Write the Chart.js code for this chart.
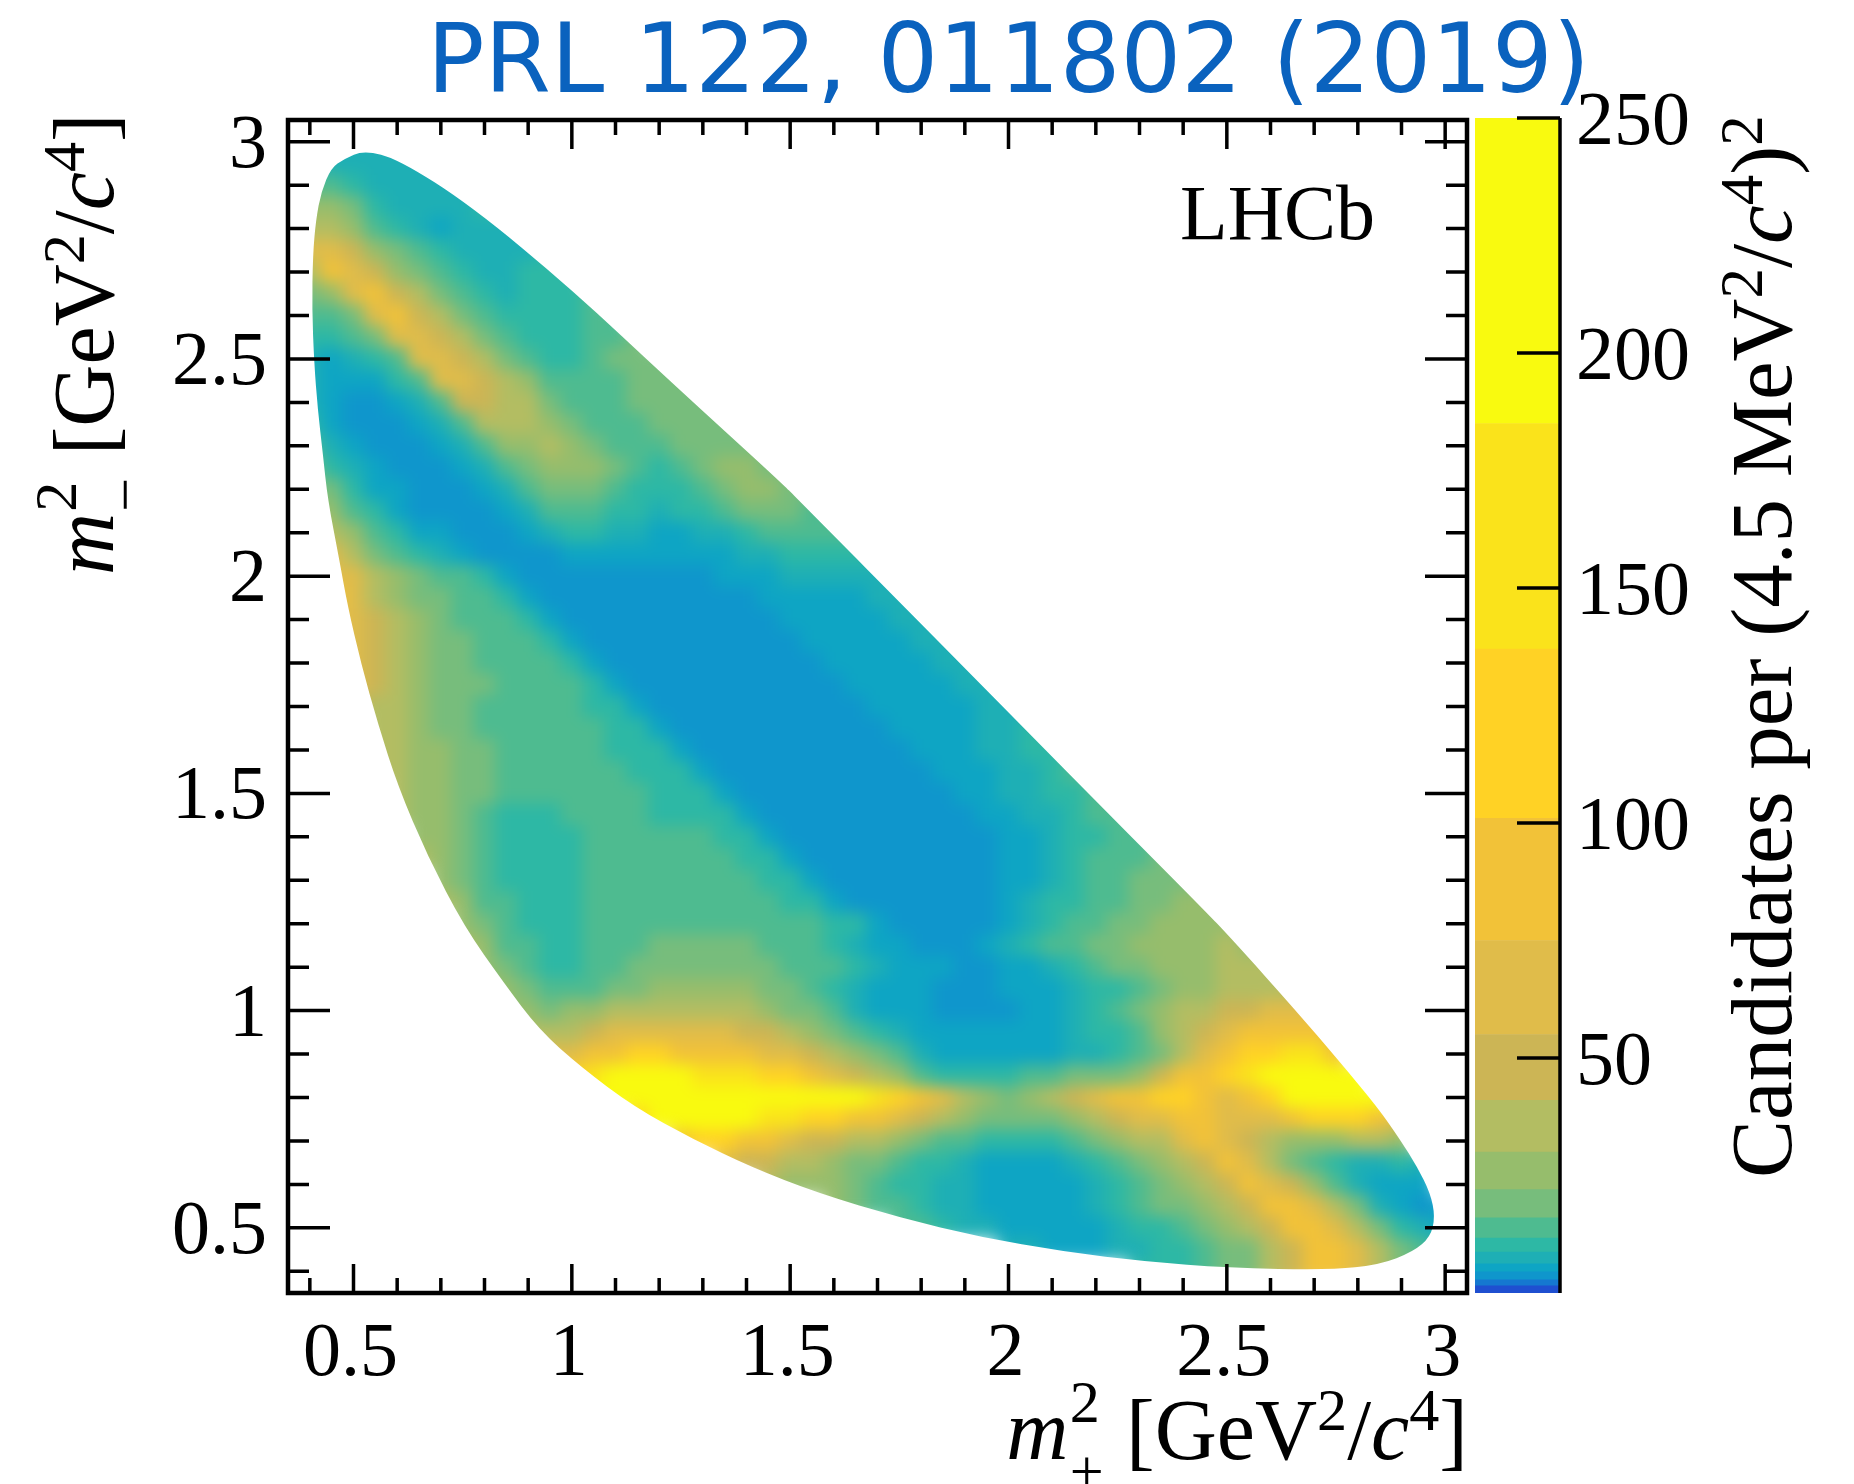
<!DOCTYPE html>
<html>
<head>
<meta charset="utf-8">
<title>PRL 122, 011802 (2019)</title>
<script src="https://cdn.jsdelivr.net/npm/chart.js@4/dist/chart.umd.min.js"></script>
<style>
body { margin: 0; background: #fff; width: 1854px; height: 1484px; overflow: hidden; position: relative; }
canvas { position: absolute; top: 0; }
.txt { position: absolute; white-space: nowrap; font-family: "Liberation Serif", serif; font-size: 86px; line-height: 100px; color: #000; }
.txt sup { font-size: 0.7em; line-height: 0; vertical-align: 0.48em; }
.stack { display: inline-block; position: relative; width: 0.42em; height: 0.1em; }
.stack b { position: absolute; left: 0.02em; font-weight: normal; font-size: 0.7em; line-height: 1; }
#head { left: 427px; top: 4px; font-family: "DejaVu Sans", sans-serif; font-size: 95.5px; line-height: 110px; color: #0a62be; }
#lhcb { left: 1180px; top: 163px; font-size: 78px; }
#xtitle { right: 386px; top: 1380px; }
#ytitle { left: 34px; top: 575px; transform-origin: 0 0; transform: rotate(-90deg); }
#ztitle { left: 1712px; top: 1178px; font-size: 87px; transform-origin: 0 0; transform: rotate(-90deg); }
</style>
</head>
<body>
<canvas id="dalitz" width="1854" height="1484" style="left:0"></canvas>
<canvas id="colorbar" width="384" height="1484" style="left:1470px"></canvas>
<div class="txt" id="head">PRL 122, 011802 (2019)</div>
<div class="txt" id="lhcb">LHCb</div>
<div class="txt" id="xtitle"><i>m</i><span class="stack"><b style="top:-1.3em">2</b><b style="top:-0.16em">+</b></span> [GeV<sup>2</sup>/<i>c</i><sup>4</sup>]</div>
<div class="txt" id="ytitle"><i>m</i><span class="stack"><b style="top:-1.3em">2</b><b style="top:-0.16em">&minus;</b></span> [GeV<sup>2</sup>/<i>c</i><sup>4</sup>]</div>
<div class="txt" id="ztitle">Candidates per (4.5 MeV<sup>2</sup>/<i>c</i><sup>4</sup>)<sup>2</sup></div>
<script>
// axis ticks
const majorTicks = [0.5, 1, 1.5, 2, 2.5, 3];
const allTicks = [0.4, 0.5, 0.6, 0.7, 0.8, 0.9, 1, 1.1, 1.2, 1.3, 1.4, 1.5, 1.6, 1.7, 1.8, 1.9, 2, 2.1, 2.2, 2.3, 2.4, 2.5, 2.6, 2.7, 2.8, 2.9, 3];
const colorbarTicks = [0, 50, 100, 150, 200, 250];

// colour scale
const levelEdges = [0, 1.5, 2.8, 4.5, 6.2, 8.7, 11.7, 16, 22, 30, 41, 55, 75, 101, 137, 185, 250];
const levelColors = ['#1f4fd0', '#1578d0', '#0f96cc', '#0ea5c4', '#1eafb5', '#2db8a5', '#4ebb90', '#77bd7c',
  '#96bd6c', '#b3bd62', '#ccb555', '#e0bc4a', '#f2c238', '#ffd225', '#fae31b', '#f9fa0f'];

// outline of the populated region, going clockwise from the top tip
const edgeX = [0.524, 0.602, 0.769, 1.0, 1.227, 1.478, 1.517, 1.828, 2.135, 2.44, 2.512, 2.66, 2.76, 2.844, 2.897, 2.936, 2.966, 2.977, 2.966, 2.927, 2.85, 2.737, 2.5, 2.318, 2.126, 1.935, 1.753, 1.563, 1.41, 1.28, 1.142, 1.02, 0.925, 0.844, 0.753, 0.67, 0.602, 0.556, 0.517, 0.487, 0.467, 0.441, 0.43, 0.418, 0.41, 0.405, 0.407, 0.414, 0.426, 0.449, 0.478];
const edgeY = [2.98, 2.96, 2.853, 2.66, 2.447, 2.217, 2.177, 1.862, 1.548, 1.24, 1.164, 0.998, 0.88, 0.779, 0.703, 0.64, 0.58, 0.525, 0.479, 0.445, 0.415, 0.403, 0.408, 0.422, 0.445, 0.479, 0.523, 0.58, 0.64, 0.703, 0.779, 0.871, 0.956, 1.064, 1.194, 1.355, 1.516, 1.66, 1.8, 1.93, 2.04, 2.177, 2.28, 2.385, 2.49, 2.615, 2.74, 2.82, 2.885, 2.94, 2.96];

// candidates per bin, estimated by eye: one row per m-^2 value, first bin at rowStart, bins 0.05 wide
const rowY = [3.00, 2.95, 2.90, 2.85, 2.80, 2.75, 2.70, 2.65, 2.60, 2.55, 2.50, 2.45, 2.40, 2.35, 2.30, 2.25, 2.20, 2.15, 2.10, 2.05, 2.00, 1.95, 1.90, 1.85, 1.80, 1.75, 1.70, 1.65, 1.60, 1.55, 1.50, 1.45, 1.40, 1.35, 1.30, 1.25, 1.20, 1.15, 1.10, 1.05, 1.00, 0.95, 0.90, 0.85, 0.80, 0.75, 0.70, 0.65, 0.60, 0.55, 0.50, 0.45, 0.40];
const rowStart = [0.45, 0.40, 0.40, 0.40, 0.40, 0.40, 0.40, 0.40, 0.40, 0.40, 0.40, 0.40, 0.40, 0.40, 0.40, 0.40, 0.40, 0.40, 0.40, 0.45, 0.45, 0.45, 0.45, 0.45, 0.50, 0.50, 0.50, 0.55, 0.55, 0.55, 0.60, 0.60, 0.65, 0.65, 0.70, 0.70, 0.75, 0.75, 0.80, 0.80, 0.85, 0.90, 0.95, 1.00, 1.05, 1.15, 1.25, 1.35, 1.45, 1.60, 1.75, 2.00, 2.30];
const rowCounts = [
  [8, 8, 8, 8, 8, 8],
  [7, 7, 8, 8, 8, 8, 8, 8],
  [14, 12, 9, 8, 7, 7, 7, 7, 8],
  [26, 22, 16, 11, 8, 7, 7, 8, 9, 9],
  [40, 30, 22, 14, 10, 7, 6, 7, 7, 8, 8],
  [60, 70, 45, 28, 18, 12, 9, 7, 7, 8, 8, 9],
  [30, 80, 70, 45, 28, 18, 12, 9, 8, 8, 9, 9, 10],
  [16, 22, 70, 75, 50, 30, 18, 12, 9, 8, 9, 10, 11, 12],
  [12, 14, 16, 70, 75, 50, 30, 20, 13, 10, 9, 9, 11, 12, 14],
  [9, 10, 12, 16, 65, 70, 50, 30, 20, 13, 10, 9, 10, 12, 14, 16],
  [7, 6, 8, 11, 14, 60, 70, 45, 30, 20, 14, 11, 10, 12, 16, 18, 16, 16],
  [7, 5, 5, 6, 9, 13, 55, 65, 45, 30, 22, 15, 12, 12, 14, 18, 20, 18, 18],
  [8, 5, 4, 4, 5, 8, 12, 45, 50, 40, 30, 20, 15, 13, 13, 16, 20, 20, 18, 18],
  [10, 6, 4, 4, 4, 5, 7, 12, 30, 35, 35, 28, 20, 15, 13, 14, 18, 20, 20, 18, 18],
  [13, 8, 5, 4, 4, 4, 5, 8, 12, 22, 28, 30, 24, 18, 14, 13, 15, 18, 20, 20, 18, 18],
  [16, 11, 7, 5, 4, 4, 4, 5, 8, 12, 20, 24, 26, 22, 16, 12, 11, 14, 18, 22, 22, 18, 18],
  [20, 16, 10, 6, 5, 4, 4, 4, 5, 8, 13, 18, 20, 18, 15, 11, 10, 11, 14, 20, 24, 22, 18, 18],
  [28, 24, 14, 9, 6, 4, 4, 4, 4, 5, 8, 12, 14, 13, 11, 9, 8, 9, 10, 13, 16, 18, 18, 15, 15],
  [50, 40, 22, 13, 9, 6, 5, 4, 4, 4, 5, 7, 9, 9, 8, 7, 6, 6, 7, 8, 10, 12, 14, 14, 12, 12],
  [60, 35, 20, 13, 9, 7, 5, 4, 4, 4, 4, 5, 6, 6, 5, 5, 5, 5, 6, 7, 8, 9, 10, 10, 9, 9],
  [70, 60, 32, 24, 18, 15, 13, 9, 5, 4, 4, 4, 4, 4, 4, 4, 4, 4, 5, 6, 6, 7, 7, 7, 7, 7, 7],
  [80, 70, 40, 28, 20, 16, 14, 13, 10, 6, 4, 4, 4, 4, 4, 4, 4, 4, 4, 4, 5, 5, 5, 6, 6, 7, 8, 8],
  [65, 70, 50, 32, 23, 18, 15, 14, 13, 10, 5, 4, 4, 4, 4, 4, 4, 4, 4, 4, 4, 5, 5, 5, 6, 6, 7, 8, 8],
  [50, 60, 50, 34, 24, 19, 16, 14, 13, 12, 9, 5, 4, 4, 4, 4, 4, 4, 4, 4, 4, 4, 5, 5, 5, 6, 6, 7, 8, 8],
  [60, 50, 34, 26, 20, 17, 15, 14, 13, 12, 9, 5, 4, 4, 4, 4, 4, 4, 4, 4, 4, 4, 5, 5, 5, 6, 6, 7, 8, 8],
  [55, 44, 32, 26, 20, 17, 16, 15, 14, 13, 12, 9, 5, 4, 4, 4, 4, 4, 4, 4, 4, 4, 4, 5, 5, 5, 6, 6, 7, 8, 8],
  [45, 40, 32, 26, 20, 17, 15, 15, 14, 13, 12, 11, 9, 5, 4, 4, 4, 4, 4, 4, 4, 4, 4, 4, 5, 5, 5, 6, 6, 7, 8, 8],
  [36, 32, 26, 20, 18, 15, 15, 14, 13, 12, 12, 11, 9, 5, 4, 4, 4, 4, 4, 4, 4, 4, 4, 4, 5, 5, 6, 6, 7, 8, 9, 9],
  [32, 30, 26, 22, 18, 16, 15, 14, 13, 12, 12, 11, 11, 9, 5, 4, 4, 4, 4, 4, 4, 4, 4, 4, 4, 5, 5, 6, 7, 8, 9, 10, 10],
  [30, 30, 26, 22, 18, 16, 15, 14, 13, 13, 12, 12, 11, 11, 9, 5, 4, 4, 4, 4, 4, 4, 4, 4, 4, 4, 5, 5, 6, 7, 8, 10, 12, 12],
  [30, 26, 22, 18, 16, 14, 12, 12, 12, 12, 12, 12, 11, 11, 9, 5, 4, 4, 4, 4, 4, 4, 4, 4, 4, 4, 5, 6, 7, 8, 9, 11, 13, 13],
  [30, 28, 22, 16, 13, 11, 11, 11, 12, 12, 12, 12, 11, 11, 11, 9, 5, 4, 4, 4, 4, 4, 4, 4, 4, 4, 4, 5, 6, 7, 8, 10, 12, 14, 14],
  [28, 22, 16, 13, 11, 10, 10, 11, 12, 13, 13, 13, 12, 12, 11, 9, 5, 4, 4, 4, 4, 4, 4, 4, 4, 4, 4, 5, 6, 8, 9, 11, 13, 15, 15],
  [30, 24, 17, 13, 11, 10, 10, 11, 12, 12, 13, 13, 13, 13, 13, 11, 9, 5, 4, 4, 4, 4, 4, 4, 4, 4, 4, 5, 6, 8, 10, 12, 14, 15, 17, 17],
  [28, 20, 14, 11, 10, 10, 11, 12, 13, 13, 13, 14, 14, 14, 13, 11, 10, 6, 4, 4, 4, 4, 4, 4, 4, 4, 5, 6, 8, 10, 12, 14, 16, 18, 20, 20],
  [30, 22, 15, 12, 10, 10, 11, 12, 13, 14, 14, 14, 14, 14, 13, 12, 11, 10, 6, 4, 4, 4, 4, 4, 4, 4, 5, 7, 9, 11, 13, 15, 17, 19, 22, 24, 24],
  [26, 18, 13, 11, 11, 11, 12, 13, 14, 15, 15, 15, 15, 14, 13, 12, 12, 11, 9, 6, 4, 4, 4, 4, 4, 5, 7, 9, 12, 15, 18, 20, 22, 24, 26, 26, 26],
  [30, 22, 15, 12, 11, 11, 12, 13, 15, 16, 17, 17, 17, 16, 14, 13, 12, 10, 8, 6, 5, 4, 4, 4, 5, 7, 9, 12, 15, 18, 20, 22, 24, 26, 28, 30, 28, 28],
  [26, 18, 13, 11, 11, 13, 15, 17, 19, 20, 20, 20, 19, 17, 15, 13, 12, 10, 8, 6, 5, 5, 4, 4, 5, 6, 8, 10, 13, 16, 20, 22, 25, 28, 30, 32, 30, 30],
  [30, 22, 16, 13, 13, 15, 18, 21, 24, 26, 26, 26, 24, 21, 17, 14, 10, 8, 6, 5, 5, 4, 4, 4, 5, 5, 6, 7, 9, 11, 14, 18, 22, 26, 30, 34, 38, 40, 36, 30],
  [26, 22, 20, 22, 25, 30, 34, 36, 36, 36, 34, 30, 25, 20, 16, 12, 8, 6, 5, 5, 4, 4, 4, 4, 5, 6, 8, 10, 14, 18, 24, 30, 36, 42, 50, 58, 62, 55, 42],
  [30, 30, 35, 45, 55, 60, 60, 60, 58, 55, 50, 45, 36, 28, 20, 14, 10, 8, 6, 5, 5, 5, 5, 5, 6, 7, 9, 11, 14, 22, 35, 50, 65, 75, 85, 90, 90, 70],
  [60, 70, 85, 100, 105, 105, 100, 95, 85, 75, 65, 55, 45, 35, 25, 18, 12, 8, 6, 5, 5, 5, 5, 6, 7, 8, 10, 13, 18, 38, 60, 85, 110, 135, 150, 155, 100],
  [130, 160, 190, 190, 190, 190, 180, 165, 145, 125, 105, 85, 65, 45, 32, 22, 15, 11, 9, 9, 10, 12, 14, 16, 18, 20, 25, 45, 75, 100, 120, 140, 190, 220, 230, 230, 200],
  [200, 220, 230, 230, 230, 230, 220, 210, 200, 190, 190, 190, 185, 140, 110, 85, 55, 30, 22, 20, 24, 35, 50, 65, 80, 95, 105, 115, 85, 70, 85, 130, 190, 230, 240, 240, 200],
  [130, 190, 215, 220, 215, 200, 180, 150, 125, 105, 85, 75, 65, 50, 35, 24, 18, 16, 17, 20, 26, 35, 45, 55, 70, 100, 90, 70, 55, 65, 85, 110, 110, 110, 90, 60],
  [100, 120, 115, 100, 80, 65, 48, 42, 36, 30, 25, 20, 15, 12, 10, 9, 9, 10, 13, 17, 22, 30, 40, 55, 90, 70, 45, 32, 24, 24, 28, 32, 30, 22],
  [55, 50, 42, 35, 30, 26, 20, 16, 13, 11, 9, 8, 6, 6, 6, 6, 8, 10, 15, 20, 26, 35, 50, 85, 70, 40, 20, 12, 9, 8, 8, 9, 8],
  [32, 28, 25, 22, 18, 14, 11, 9, 8, 7, 6, 5, 5, 5, 6, 8, 11, 15, 20, 25, 32, 45, 85, 70, 45, 26, 14, 8, 6, 5, 6],
  [22, 18, 14, 12, 10, 8, 7, 6, 5, 5, 5, 6, 8, 10, 13, 16, 20, 26, 35, 50, 90, 75, 55, 30, 16, 8, 5, 4, 5],
  [14, 12, 10, 8, 7, 6, 6, 5, 5, 6, 7, 9, 11, 14, 18, 24, 30, 45, 95, 90, 60, 35, 20, 11, 7, 6],
  [8, 7, 6, 6, 6, 7, 8, 9, 11, 13, 16, 20, 30, 45, 100, 90, 60, 35, 20, 12, 9],
  [10, 10, 11, 13, 16, 20, 30, 45, 90, 90, 70, 40, 20, 12]
];

function levelColor(v) {
  for (let i = 0; i < levelColors.length; i++) {
    if (v < levelEdges[i + 1]) return levelColors[i];
  }
  return levelColors[levelColors.length - 1];
}

let cells = [];
let cellColors = [];
for (let r = 0; r < rowY.length; r++) {
  for (let c = 0; c < rowCounts[r].length; c++) {
    cells.push({ x: rowStart[r] + c * 0.05, y: rowY[r] });
    cellColors.push(levelColor(rowCounts[r][c]));
  }
}

const serif = 'Liberation Serif';

// the cells are painted as plain squares, then the area is redrawn once, softened and cut to the outline
const softenAndClip = {
  id: 'softenAndClip',
  afterDatasetsDraw(chart) {
    const ctx = chart.ctx;
    const a = chart.chartArea;
    const n = edgeX.length;
    const px = i => chart.scales.x.getPixelForValue(edgeX[i % n]);
    const py = i => chart.scales.y.getPixelForValue(edgeY[i % n]);

    const copy = document.createElement('canvas');
    copy.width = chart.canvas.width;
    copy.height = chart.canvas.height;
    copy.getContext('2d').drawImage(chart.canvas, 0, 0);

    ctx.clearRect(a.left, a.top, a.right - a.left, a.bottom - a.top);
    ctx.save();
    ctx.beginPath();
    ctx.moveTo((px(n - 1) + px(0)) / 2, (py(n - 1) + py(0)) / 2);
    for (let i = 0; i < n; i++) {
      ctx.quadraticCurveTo(px(i), py(i), (px(i) + px(i + 1)) / 2, (py(i) + py(i + 1)) / 2);
    }
    ctx.closePath();
    ctx.clip();
    ctx.filter = 'blur(8px)';
    ctx.drawImage(copy, 0, 0);
    ctx.restore();
  }
};

// ROOT style frame with inward ticks on all four sides
const frameTicks = {
  id: 'frameTicks',
  afterDraw(chart) {
    const ctx = chart.ctx;
    const a = chart.chartArea;
    ctx.save();
    ctx.strokeStyle = '#000';
    ctx.lineWidth = 3.5;
    ctx.beginPath();
    for (const v of allTicks) {
      const big = majorTicks.includes(v);
      const px = chart.scales.x.getPixelForValue(v);
      const py = chart.scales.y.getPixelForValue(v);
      const lx = big ? 29 : 15;
      const ly = big ? 42 : 21;
      ctx.moveTo(px, a.bottom); ctx.lineTo(px, a.bottom - lx);
      ctx.moveTo(px, a.top); ctx.lineTo(px, a.top + lx);
      ctx.moveTo(a.left, py); ctx.lineTo(a.left + ly, py);
      ctx.moveTo(a.right, py); ctx.lineTo(a.right - ly, py);
    }
    ctx.stroke();
    ctx.lineWidth = 4.5;
    ctx.strokeRect(a.left, a.top, a.right - a.left, a.bottom - a.top);
    ctx.restore();
  }
};

const colorbarLines = {
  id: 'colorbarLines',
  afterDraw(chart) {
    const ctx = chart.ctx;
    const a = chart.chartArea;
    ctx.save();
    ctx.strokeStyle = '#000';
    ctx.lineWidth = 3.5;
    ctx.beginPath();
    ctx.moveTo(a.right, a.top);
    ctx.lineTo(a.right, a.bottom);
    for (const v of colorbarTicks) {
      if (v == 0) continue;
      const py = chart.scales.y.getPixelForValue(v);
      ctx.moveTo(a.right, py);
      ctx.lineTo(a.right - 43, py);
    }
    ctx.stroke();
    ctx.restore();
  }
};

new Chart(document.getElementById('dalitz'), {
  type: 'scatter',
  data: {
    datasets: [{
      data: cells,
      backgroundColor: cellColors,
      borderWidth: 0,
      pointStyle: 'rect',
      pointRadius: 16
    }]
  },
  options: {
    responsive: false,
    animation: false,
    events: [],
    layout: { padding: { top: 120, right: 387, left: 0, bottom: 0 } },
    plugins: { legend: { display: false }, tooltip: { enabled: false } },
    scales: {
      x: {
        type: 'linear', min: 0.35, max: 3.05,
        afterBuildTicks(scale) { scale.ticks = allTicks.map(v => ({ value: v })); },
        afterFit(scale) { scale.height = 191; },
        grid: { display: false },
        border: { display: false },
        ticks: {
          autoSkip: false, maxRotation: 0, padding: 8, labelOffset: -3, color: '#000',
          font: { family: serif, size: 76 },
          callback: v => majorTicks.includes(v) ? String(v) : ''
        }
      },
      y: {
        type: 'linear', min: 0.35, max: 3.05,
        afterBuildTicks(scale) { scale.ticks = allTicks.map(v => ({ value: v })); },
        afterFit(scale) { scale.width = 288; },
        grid: { display: false },
        border: { display: false },
        ticks: {
          autoSkip: false, padding: 13, labelOffset: 5, color: '#000',
          font: { family: serif, size: 76 },
          callback: v => majorTicks.includes(v) ? String(v) : ''
        }
      }
    }
  },
  plugins: [softenAndClip, frameTicks]
});

new Chart(document.getElementById('colorbar'), {
  type: 'bar',
  data: {
    labels: [''],
    datasets: levelColors.map((color, i) => ({
      data: [[levelEdges[i], levelEdges[i + 1]]],
      backgroundColor: color,
      grouped: false,
      barPercentage: 1,
      categoryPercentage: 1
    }))
  },
  options: {
    responsive: false,
    animation: false,
    events: [],
    layout: { padding: { top: 118, left: 5, right: 0, bottom: 191 } },
    plugins: { legend: { display: false }, tooltip: { enabled: false } },
    scales: {
      x: { display: false },
      y: {
        position: 'right', min: 0, max: 250,
        afterBuildTicks(scale) { scale.ticks = colorbarTicks.map(v => ({ value: v })); },
        afterFit(scale) { scale.width = 294; },
        grid: { display: false },
        border: { display: false },
        ticks: {
          padding: 8, labelOffset: 6, color: '#000',
          font: { family: serif, size: 76 },
          callback: v => v == 0 ? '' : String(v)
        }
      }
    }
  },
  plugins: [colorbarLines]
});
</script>
</body>
</html>
